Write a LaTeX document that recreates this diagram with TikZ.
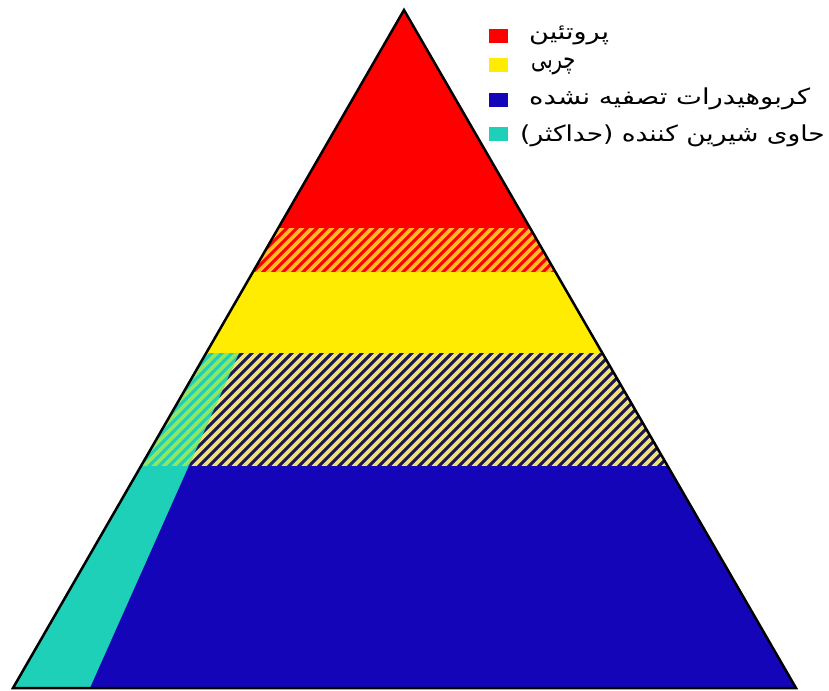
\documentclass[tikz,border=0pt]{standalone}
\usepackage{fontspec}
\usepackage{graphicx}
\newfontfamily\arabicfont[Script=Arabic]{DejaVu Sans}
\TeXXeTstate=1
\definecolor{pred}{RGB}{254,0,0}
\definecolor{pyellow}{RGB}{255,236,0}
\definecolor{pblue}{RGB}{20,6,184}
\definecolor{pteal}{RGB}{30,208,184}
\definecolor{pnavy}{RGB}{28,22,84}
\definecolor{hyellow}{RGB}{240,228,110}
\definecolor{horange}{RGB}{250,190,30}
\definecolor{hgreen}{RGB}{150,228,90}
\tikzset{
  sq/.style={draw=none,minimum width=19pt,minimum height=14pt,inner sep=0pt},
  lbl/.style={anchor=west,inner sep=0pt,font=\arabicfont\fontsize{22}{26}\selectfont},
  stripe/.style={line width=3.6pt}
}
\begin{document}
\begin{tikzpicture}[x=1pt,y=-1pt]
\useasboundingbox (0,0) rectangle (829,690);
\coordinate (A) at (404,10);
\coordinate (L) at (13,688);
\coordinate (R) at (796,688);
\begin{scope}
  \clip (A) -- (L) -- (R) -- cycle;
  % red
  \fill[pred] (0,0) rectangle (829,273);
  \begin{scope}
    \clip (0,228) rectangle (829,272);
    \foreach \c in {0,10,...,1600} \draw[stripe,horange] (\c,0) -- (\c-700,700);
  \end{scope}
  % yellow
  \fill[pyellow] (0,272) rectangle (829,353);
  % yellow/navy hatch
  \fill[pnavy] (0,353) rectangle (829,466);
  \begin{scope}
    \clip (0,353) rectangle (829,466);
    \foreach \c in {0,10,...,1600} \draw[stripe,hyellow] (\c,0) -- (\c-700,700);
  \end{scope}
  % blue
  \fill[pblue] (0,466) rectangle (829,690);
  % teal strip hatched part
  \begin{scope}
    \clip (0,353) rectangle (829,466);
    \clip (239,353) -- (89,690) -- (0,690) -- (0,353) -- cycle;
    \fill[pteal] (0,353) rectangle (829,466);
    \foreach \c in {0,10,...,1600} \draw[stripe,hgreen] (\c,0) -- (\c-700,700);
  \end{scope}
  % teal strip solid part
  \begin{scope}
    \clip (0,466) rectangle (829,690);
    \fill[pteal] (239,353) -- (89,690) -- (0,690) -- (0,353) -- cycle;
  \end{scope}
\end{scope}
\draw[line width=2.5pt,line join=miter] (A) -- (L) -- (R) -- cycle;
% legend
\node[sq,fill=pred] (s1) at (498.5,36) {};
\node[sq,fill=pyellow] (s2) at (498.5,65) {};
\node[sq,fill=pblue] (s3) at (498.5,100) {};
\node[sq,fill=pteal] (s4) at (498.5,134) {};
\node[lbl] (t1) at (529,35) {\resizebox{80pt}{!}{\scalebox{1}[0.82]{\beginR پروتئین\endR}}};
\node[lbl] (t2) at (531,66) {\scalebox{0.88}[1.2]{\beginR چربی\endR}};
\node[lbl] (t3) at (529,99) {\scalebox{1.25}[1]{\beginR کربوهیدرات تصفیه نشده\endR}};
\node[lbl] (t4) at (520,136) {\scalebox{1.2}[1]{\beginR حاوی شیرین کننده (حداکثر)\endR}};
\end{tikzpicture}
\end{document}
